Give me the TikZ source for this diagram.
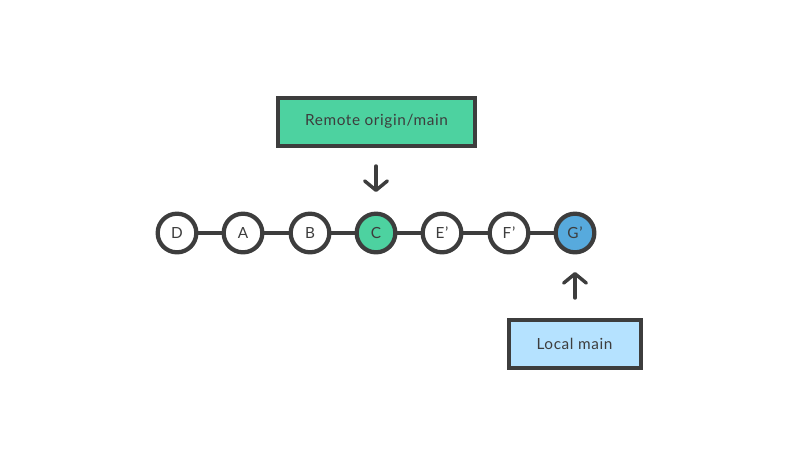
\documentclass[tikz,border=0pt]{standalone}
\usepackage{fontspec}
\setmainfont{Lato}[LetterSpace=4]
\usetikzlibrary{arrows.meta}
\definecolor{dk}{HTML}{3D3D3D}
\definecolor{grn}{HTML}{4DD2A0}
\definecolor{blu}{HTML}{57AADD}
\definecolor{lblu}{HTML}{B5E2FF}
\tikzset{
  commit/.style={circle, draw=dk, line width=3.2pt, fill=white, minimum size=29pt, inner sep=0pt, font=\fontsize{11.5pt}{13pt}\selectfont, text=dk},
  label box/.style={draw=dk, line width=3pt, minimum width=148pt, minimum height=36pt, font=\fontsize{11.5pt}{13pt}\selectfont, text=dk},
  link/.style={draw=dk, line width=3pt},
  pointer/.style={draw=dk, line width=2.6pt, line cap=round, line join=round, -{Straight Barb[length=7pt,width=17pt,line cap=round,line join=round]}}
}
\begin{document}
\begin{tikzpicture}[x=0.75pt,y=-0.75pt]
\useasboundingbox (0,0) rectangle (800,465);
\draw[link] (177,233) -- (575,233);
\node[commit] (D) at (177,233) {D};
\node[commit] (A) at (243,233) {A};
\node[commit] (B) at (310,233) {B};
\node[commit, fill=grn] (C) at (376,233) {C};
\node[commit] (E) at (442,233) {E\kern0.5pt\textquoteright};
\node[commit] (F) at (509,233) {F\kern0.5pt\textquoteright};
\node[commit, fill=blu] (G) at (575,233) {G\kern0.5pt\textquoteright};
\node[label box, fill=grn] (R) at (376.5,121.5) {Remote origin/main};
\node[label box, fill=lblu, minimum width=99pt] (L) at (574.5,343.5) {Local main};
\coordinate (ra) at (376,166);
\coordinate (rb) at (376,192);
\coordinate (la) at (575,298);
\coordinate (lb) at (575,272);
\draw[pointer] (ra) -- (rb);
\draw[pointer] (la) -- (lb);
\end{tikzpicture}
\end{document}
